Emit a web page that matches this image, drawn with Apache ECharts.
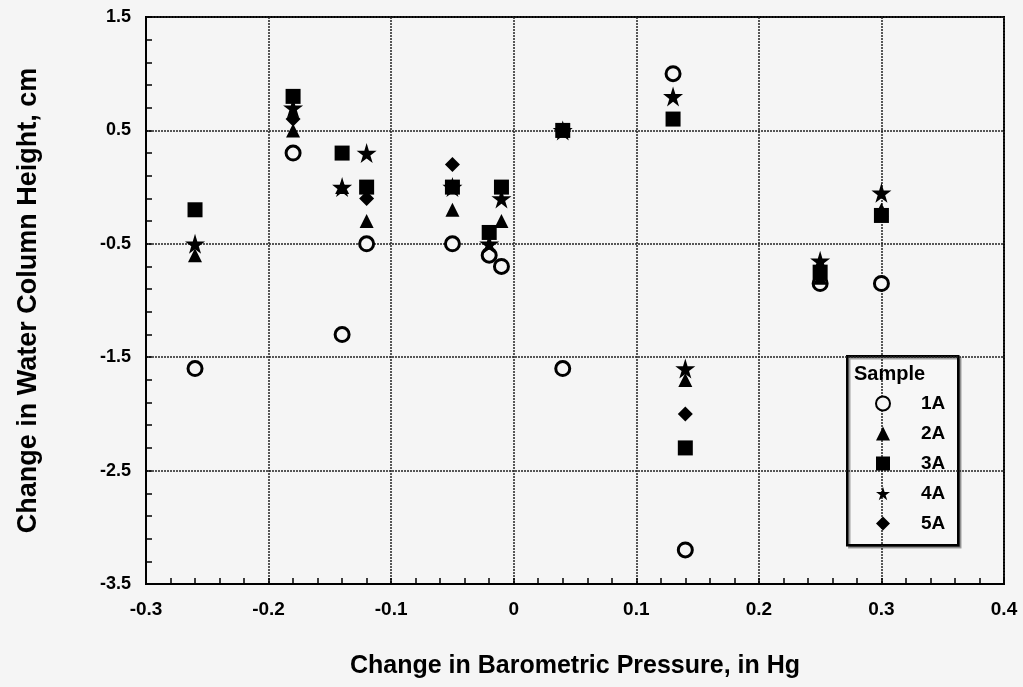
<!DOCTYPE html>
<html>
<head>
<meta charset="utf-8">
<script src="https://cdn.jsdelivr.net/npm/echarts@6/dist/echarts.min.js"></script>
<style>
  html, body { margin: 0; padding: 0; background: #f5f5f5; }
  #chart { width: 1023px; height: 687px; }
</style>
</head>
<body>
<div id="chart"></div>
<script>
// Change in water column height (cm) vs change in barometric pressure (in Hg)
var sampleNames = ['1A', '2A', '3A', '4A', '5A'];

var sample1A = [[-0.26, -1.6], [-0.18, 0.3], [-0.14, -1.3], [-0.12, -0.5], [-0.05, -0.5],
  [-0.02, -0.6], [-0.01, -0.7], [0.04, -1.6], [0.13, 1.0], [0.14, -3.2], [0.25, -0.85], [0.3, -0.85]];
var sample2A = [[-0.26, -0.6], [-0.18, 0.5], [-0.14, 0.0], [-0.12, -0.3], [-0.05, -0.2],
  [-0.01, -0.3], [0.04, 0.5], [0.13, 0.6], [0.14, -1.7], [0.25, -0.8], [0.3, -0.2]];
var sample3A = [[-0.26, -0.2], [-0.18, 0.8], [-0.14, 0.3], [-0.12, 0.0], [-0.05, 0.0],
  [-0.02, -0.4], [-0.01, 0.0], [0.04, 0.5], [0.13, 0.6], [0.14, -2.3], [0.25, -0.75], [0.3, -0.25]];
var sample4A = [[-0.26, -0.5], [-0.18, 0.7], [-0.14, 0.0], [-0.12, 0.3], [-0.05, 0.0],
  [-0.02, -0.5], [-0.01, -0.1], [0.04, 0.5], [0.13, 0.8], [0.14, -1.6], [0.25, -0.65], [0.3, -0.05]];
var sample5A = [[-0.18, 0.6], [-0.12, -0.1], [-0.05, 0.2], [0.14, -2.0]];

var xTitle = 'Change in Barometric Pressure, in Hg';
var yTitle = 'Change in Water Column Height, cm';
var legendTitle = 'Sample';

var STAR = 'path://M50,0 L61,35 L98,35 L68,57 L79,91 L50,70 L21,91 L32,57 L2,35 L39,35 Z';
var FONT = '"Liberation Sans", Arial, sans-serif';

function scatter(name, data, symbol, size, style) {
  style.opacity = 1;
  return {
    name: name, type: 'scatter', data: data, symbol: symbol, symbolSize: size,
    itemStyle: style, emphasis: { disabled: true }, z: 3
  };
}

var chart = echarts.init(document.getElementById('chart'), null, { renderer: 'canvas' });
chart.setOption({
  backgroundColor: '#f5f5f5',
  animation: false,
  textStyle: { fontFamily: FONT },
  grid: { left: 146, right: 19, top: 17, bottom: 103, show: true, borderColor: '#000', borderWidth: 2 },
  xAxis: {
    type: 'value', min: -0.3, max: 0.4, interval: 0.1,
    name: xTitle, nameLocation: 'middle', nameGap: 70,
    nameTextStyle: { fontSize: 25, fontWeight: 'bold', color: '#000', fontFamily: FONT },
    axisLine: { show: true, onZero: false, lineStyle: { color: '#000', width: 2 } },
    axisTick: { show: true, inside: true, length: 6, lineStyle: { color: '#000', width: 1.5 } },
    minorTick: { show: true, splitNumber: 5, length: 6, lineStyle: { color: '#000', width: 1.5 } },
    splitLine: { show: true, lineStyle: { color: '#222', width: 1.5, type: [2, 1] } },
    axisLabel: {
      margin: 16, fontSize: 19, fontWeight: 'bold', color: '#000', fontFamily: FONT,
      formatter: function (v) { return String(Math.round(v * 10) / 10); }
    }
  },
  yAxis: {
    type: 'value', min: -3.5, max: 1.5, interval: 1,
    name: yTitle, nameLocation: 'middle', nameGap: 104,
    nameTextStyle: { fontSize: 27, fontWeight: 'bold', color: '#000', fontFamily: FONT },
    axisLine: { show: true, onZero: false, lineStyle: { color: '#000', width: 2 } },
    axisTick: { show: true, inside: true, length: 6, lineStyle: { color: '#000', width: 1.5 } },
    minorTick: { show: true, splitNumber: 5, length: 6, lineStyle: { color: '#000', width: 1.5 } },
    splitLine: { show: true, lineStyle: { color: '#222', width: 1.5, type: [2, 1] } },
    axisLabel: {
      margin: 15, fontSize: 18, fontWeight: 'bold', color: '#000', fontFamily: FONT,
      formatter: function (v) { return (Math.round(v * 10) / 10).toFixed(1); }
    }
  },
  legend: {
    data: sampleNames, orient: 'vertical', left: 870, top: 389,
    itemWidth: 14, itemHeight: 14, itemGap: 11,
    textStyle: { fontSize: 19, fontWeight: 'bold', color: '#000', padding: [0, 0, 0, 26], fontFamily: FONT },
    selectedMode: false
  },
  graphic: [
    {
      type: 'rect', left: 846, top: 355, z: 0,
      shape: { width: 111, height: 189 },
      style: { fill: '#f7f7f7', stroke: '#000', lineWidth: 2.5, shadowColor: 'rgba(0,0,0,0.35)', shadowOffsetX: 2, shadowOffsetY: 2 }
    },
    {
      type: 'text', left: 854, top: 364, z: 1,
      style: { text: legendTitle, fontSize: 20, fontWeight: 'bold', fill: '#000', fontFamily: FONT }
    }
  ],
  series: [
    scatter('1A', sample1A, 'circle', 14, { color: '#f5f5f5', borderColor: '#000', borderWidth: 3 }),
    scatter('2A', sample2A, 'triangle', 14, { color: '#000' }),
    scatter('3A', sample3A, 'rect', 15, { color: '#000' }),
    scatter('4A', sample4A, STAR, 20, { color: '#000' }),
    scatter('5A', sample5A, 'diamond', 15, { color: '#000' })
  ]
});
</script>
</body>
</html>
